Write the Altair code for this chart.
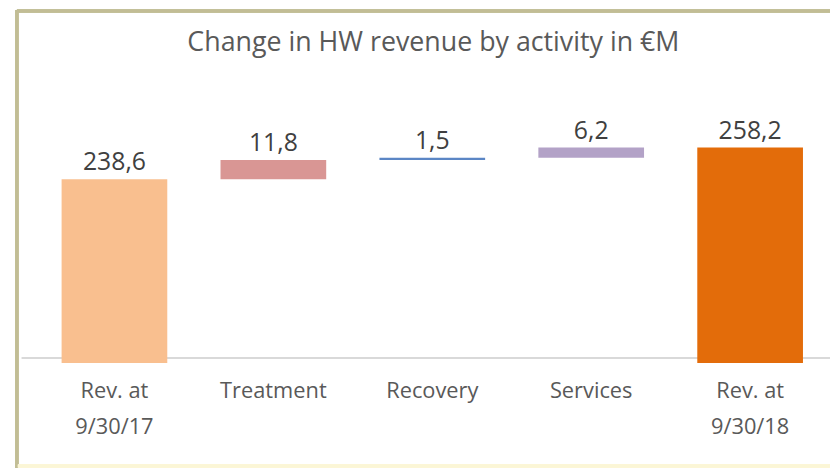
import altair as alt
import pandas as pd

categories = ["Rev. at|9/30/17", "Treatment", "Recovery", "Services", "Rev. at|9/30/18"]
values = [238.6, 11.8, 1.5, 6.2, 258.2]
is_total = [True, False, False, False, True]
colors = ["#f9bf8f", "#d99694", "#5b86c5", "#b3a2c7", "#e36c0a"]
title_text = "Change in HW revenue by activity in €M"

Y_MIN, Y_MAX = 125, 296
W, H = 815, 279
FONT = "Open Sans"

rows = []
running = 0.0
for c, v, t, col in zip(categories, values, is_total, colors):
    if t:
        start, end = Y_MIN, v
        running = v
    else:
        start, end = running, running + v
        running = end
    rows.append({"cat": c, "start": start, "end": end,
                 "label": f"{v:.1f}".replace(".", ","), "color": col})
df = pd.DataFrame(rows)

x_scale = alt.Scale(paddingInner=0.335, paddingOuter=0.21, align=0.595)
x_enc = alt.X("cat:N", sort=categories, scale=x_scale,
              axis=alt.Axis(title=None, labelExpr="split(datum.label, '|')",
                            labelAngle=0, labelFont=FONT, labelFontSize=22,
                            labelColor="#595959", labelLineHeight=36,
                            labelPadding=18, ticks=False, domain=False,
                            grid=False))
y_scale = alt.Scale(domain=[Y_MIN, Y_MAX], zero=False, nice=False, clamp=True)

base = alt.Chart(df)

bars = base.mark_bar().encode(
    x=x_enc,
    y=alt.Y("start:Q", scale=y_scale, axis=None),
    y2="end:Q",
    color=alt.Color("color:N", scale=None),
)

labels = base.mark_text(baseline="bottom", dy=-4, font=FONT, fontSize=25,
                        color="#404040").encode(
    x=alt.X("cat:N", sort=categories, scale=x_scale),
    y=alt.Y("end:Q", scale=y_scale),
    text="label:N",
)

title = alt.Chart(pd.DataFrame({"t": [title_text]})).mark_text(
    font=FONT, fontSize=27, color="#595959", baseline="alphabetic", align="center"
).encode(x=alt.value(415), y=alt.value(-36), text="t:N")

baseline = alt.Chart(df).mark_rule(color="#d9d9d9", strokeWidth=2).encode(
    x=alt.value(0), x2=alt.value(W), y=alt.value(H - 5)
)

frame_left = alt.Chart(df).mark_rule(color="#c2bd95", strokeWidth=3).encode(
    x=alt.value(-5), y=alt.value(-77), y2=alt.value(H + 106)
)
frame_top = alt.Chart(df).mark_rule(color="#c2bd95", strokeWidth=3).encode(
    x=alt.value(-5), x2=alt.value(W), y=alt.value(-76)
)
frame_bottom = alt.Chart(df).mark_rule(color="#fbf6d6", strokeWidth=3).encode(
    x=alt.value(-4), x2=alt.value(W), y=alt.value(H + 104)
)

chart = alt.layer(frame_left, frame_top, frame_bottom, baseline, bars, labels,
                  title).properties(
    width=W, height=H,
    padding={"left": 14, "top": 77, "right": 0, "bottom": 106},
    autosize=alt.AutoSizeParams(type="none"),
    background="white",
).configure_view(stroke=None)

chart.save("out.html", embed_options={"renderer": "svg", "actions": False})
